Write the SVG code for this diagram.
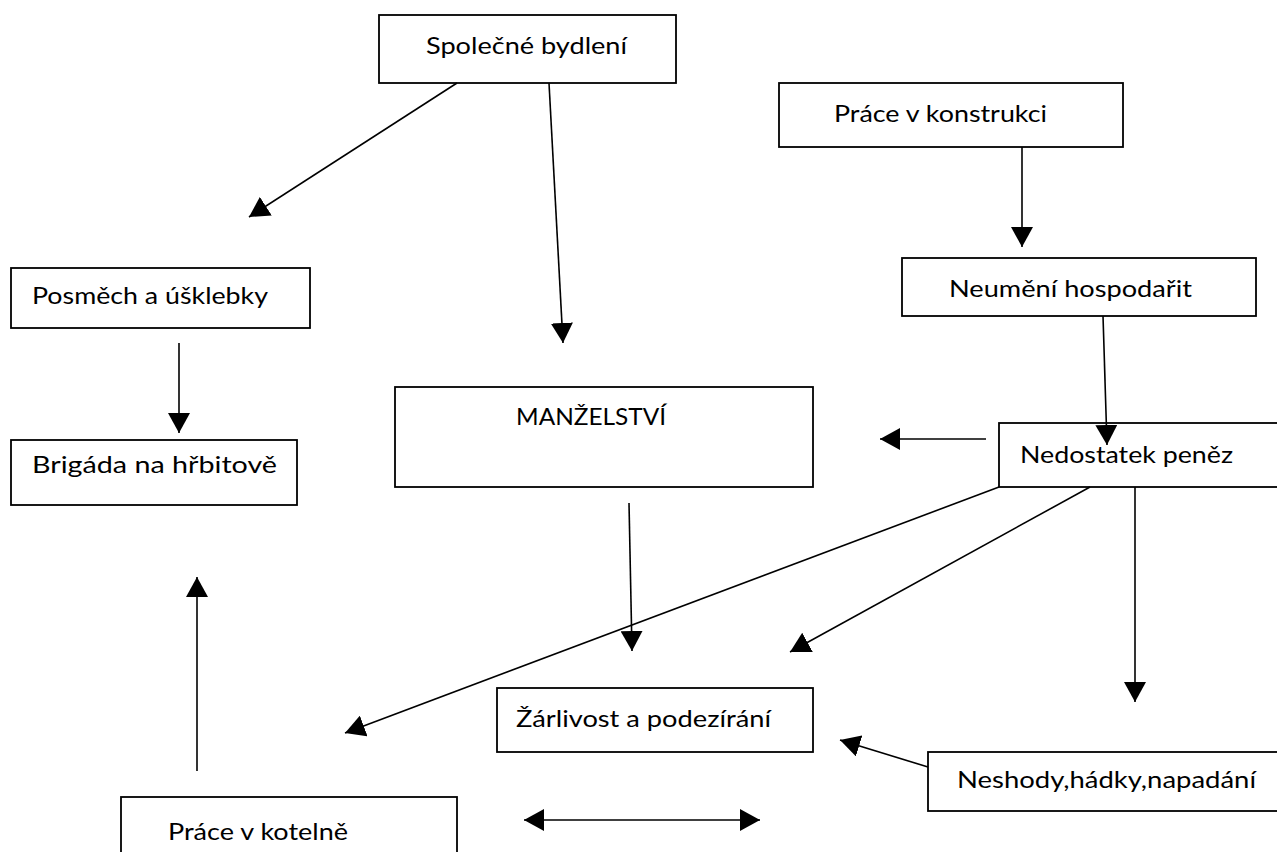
<svg xmlns="http://www.w3.org/2000/svg" width="1277" height="852" viewBox="0 0 1277 852">
<style>
.box{fill:#fff;stroke:#000;stroke-width:1.8}
.t{font-family:Lato,"Liberation Sans",Arial,sans-serif;font-size:24px;fill:#000}
.c{stroke:#000;stroke-width:1.6;fill:none}
</style>
<defs>
<marker id="ah" markerUnits="userSpaceOnUse" markerWidth="21" markerHeight="22" refX="20" refY="11" orient="auto">
<path d="M0,0 L20,11 L0,22 Z" fill="#000"/>
</marker>
<marker id="as" markerUnits="userSpaceOnUse" markerWidth="21" markerHeight="22" refX="0" refY="11" orient="auto">
<path d="M20,0 L0,11 L20,22 Z" fill="#000"/>
</marker>
</defs>
<rect width="1277" height="852" fill="#fff"/>
<g id="n-spolecne"><rect class="box" x="379" y="15" width="297" height="68"/><text class="t" x="426" y="54" textLength="201" lengthAdjust="spacingAndGlyphs">Společné bydlení</text></g>
<g id="n-konstrukce"><rect class="box" x="779" y="83" width="344" height="64"/><text class="t" x="834" y="122" textLength="213" lengthAdjust="spacingAndGlyphs">Práce v konstrukci</text></g>
<g id="n-neumeni"><rect class="box" x="902" y="258" width="354" height="58"/><text class="t" x="949" y="297" textLength="243" lengthAdjust="spacingAndGlyphs">Neumění hospodařit</text></g>
<g id="n-posmech"><rect class="box" x="11" y="268" width="299" height="60"/><text class="t" x="32" y="304" textLength="236" lengthAdjust="spacingAndGlyphs">Posměch a úšklebky</text></g>
<g id="n-brigada"><rect class="box" x="11" y="440" width="286" height="65"/><text class="t" x="32" y="473" textLength="245" lengthAdjust="spacingAndGlyphs">Brigáda na hřbitově</text></g>
<g id="n-manzelstvi"><rect class="box" x="395" y="387" width="418" height="100"/><text class="t" x="516" y="425" textLength="150" lengthAdjust="spacingAndGlyphs">MANŽELSTVÍ</text></g>
<g id="n-nedostatek"><rect class="box" x="999" y="423" width="300" height="64"/><text class="t" x="1020" y="463" textLength="213" lengthAdjust="spacingAndGlyphs">Nedostatek peněz</text></g>
<g id="n-zarlivost"><rect class="box" x="497" y="688" width="316" height="64"/><text class="t" x="516" y="727" textLength="255" lengthAdjust="spacingAndGlyphs">Žárlivost a podezírání</text></g>
<g id="n-neshody"><rect class="box" x="928" y="752" width="370" height="59"/><text class="t" x="957" y="788" textLength="299" lengthAdjust="spacingAndGlyphs">Neshody,hádky,napadání</text></g>
<g id="n-kotelna"><rect class="box" x="121" y="797" width="336" height="70"/><text class="t" x="168" y="840" textLength="180" lengthAdjust="spacingAndGlyphs">Práce v kotelně</text></g>
<g id="connectors">
<line class="c" x1="457" y1="83" x2="249" y2="217" marker-end="url(#ah)"/>
<line class="c" x1="549" y1="83" x2="563" y2="343" marker-end="url(#ah)"/>
<line class="c" x1="1022" y1="147" x2="1022" y2="247" marker-end="url(#ah)"/>
<line class="c" x1="1103" y1="316" x2="1107" y2="445" marker-end="url(#ah)"/>
<line class="c" x1="986" y1="439" x2="880" y2="439" marker-end="url(#ah)"/>
<line class="c" x1="179" y1="343" x2="179" y2="433" marker-end="url(#ah)"/>
<line class="c" x1="629" y1="503" x2="632" y2="651" marker-end="url(#ah)"/>
<line class="c" x1="999" y1="487" x2="345" y2="733" marker-end="url(#ah)"/>
<line class="c" x1="1090" y1="487" x2="790" y2="652" marker-end="url(#ah)"/>
<line class="c" x1="1135" y1="487" x2="1135" y2="702" marker-end="url(#ah)"/>
<line class="c" x1="928" y1="767" x2="840" y2="740" marker-end="url(#ah)"/>
<line class="c" x1="197" y1="771" x2="197" y2="577" marker-end="url(#ah)"/>
<line class="c" x1="524" y1="820" x2="760" y2="820" marker-start="url(#as)" marker-end="url(#ah)"/>
</g>
</svg>
